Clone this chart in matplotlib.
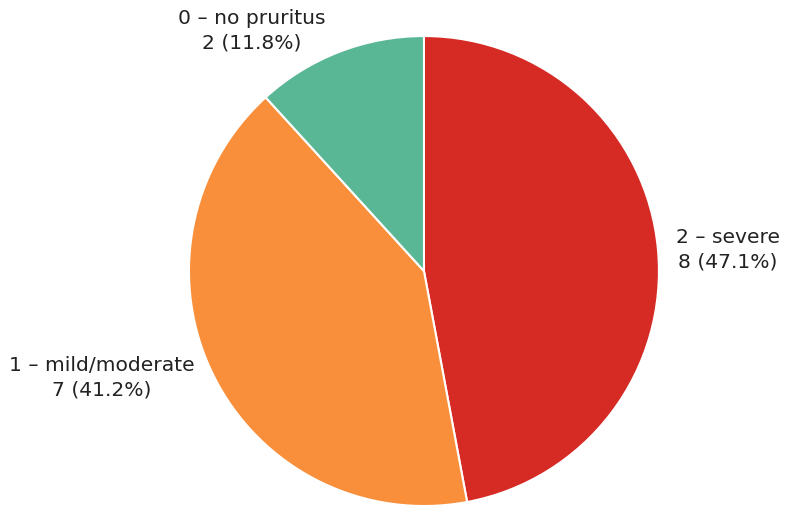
import matplotlib.pyplot as plt

# pruritus severity counts
labels = ['2 – severe', '1 – mild/moderate', '0 – no pruritus']
counts = [8, 7, 2]
colors = ['#D62A25', '#F98F3B', '#5AB796']
# where each label sits, in pie units (radius 1)
label_pos = [(1.294, 0.089), (-1.370, -0.455), (-0.732, 1.021)]

plt.rcParams['font.family'] = ['DejaVu Sans']

fig = plt.figure(figsize=(7.9, 5.08), dpi=100)
ax = fig.add_axes([0.2392, 0.0039, 0.5949, 0.9252])

total = sum(counts)
wedges, _ = ax.pie(counts, colors=colors, startangle=90, counterclock=False,
                   radius=1, wedgeprops=dict(edgecolor='white', linewidth=1.5))

for lab, n, (x, y) in zip(labels, counts, label_pos):
    ax.text(x, y, '{}\n{} ({:.1f}%)'.format(lab, n, 100 * n / total),
            ha='center', va='center', fontsize=14.6, color='#222222',
            linespacing=1.35, clip_on=False)

ax.set_xlim(-1, 1)
ax.set_ylim(-1, 1)
ax.set_aspect('equal')
ax.axis('off')

fig.savefig('out.png', dpi=100)
